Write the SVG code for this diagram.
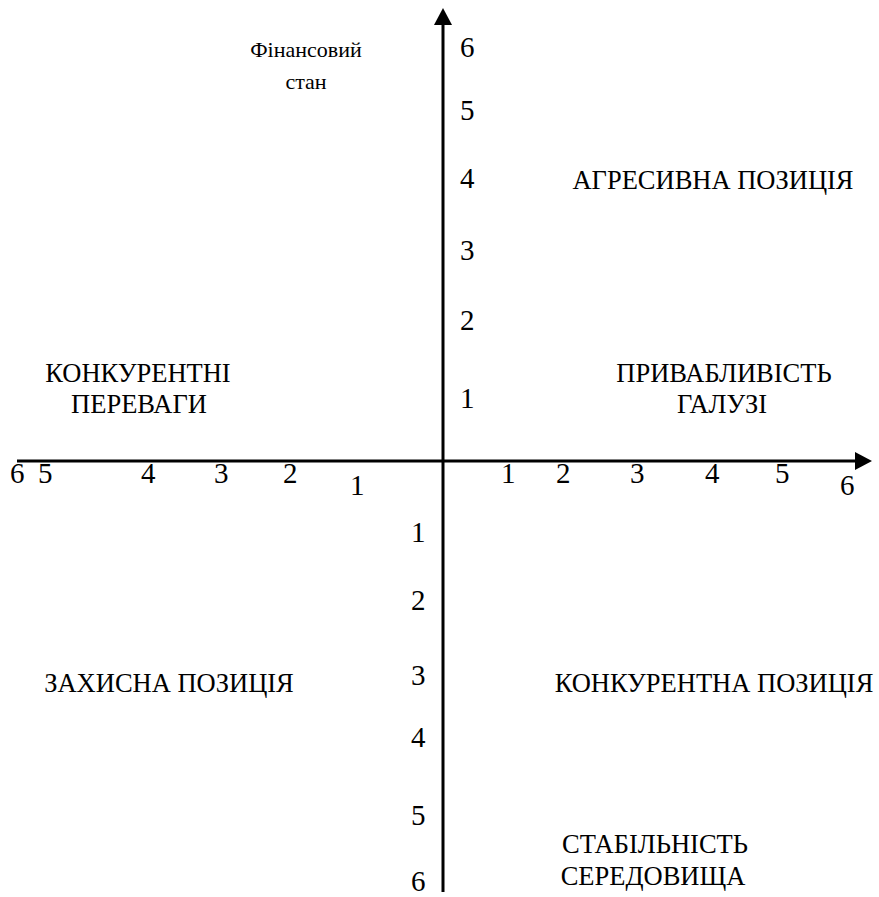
<svg xmlns="http://www.w3.org/2000/svg" width="879" height="897" viewBox="0 0 879 897">
<style>
text{font-family:"Liberation Serif","Times New Roman",serif;fill:#000}
.n{font-size:29px}
.t{font-size:22px}
.l{font-size:26.5px}
.c{text-anchor:middle}
.ax{stroke:#000;stroke-width:3;fill:none}
</style>
<rect width="879" height="897" fill="#fff"/>
<g id="connectors">
<line class="ax" x1="443" y1="892" x2="443" y2="22"/>
<polygon points="443,8 434,25 452,25" fill="#000"/>
<line class="ax" x1="17" y1="461" x2="858" y2="461"/>
<polygon points="872,461 855,452 855,470" fill="#000"/>
</g>
<g id="y-axis-title"><text class="t c" x="306" y="57">Фінансовий</text><text class="t c" x="306" y="89">стан</text></g>
<g id="y-pos">
<text class="n" x="460" y="57">6</text>
<text class="n" x="460" y="120">5</text>
<text class="n" x="460" y="188">4</text>
<text class="n" x="460" y="260">3</text>
<text class="n" x="460" y="330">2</text>
<text class="n" x="460" y="408">1</text>
</g>
<g id="y-neg">
<text class="n" x="411" y="542">1</text>
<text class="n" x="411" y="610">2</text>
<text class="n" x="411" y="685">3</text>
<text class="n" x="411" y="747">4</text>
<text class="n" x="411" y="825">5</text>
<text class="n" x="411" y="891">6</text>
</g>
<g id="x-neg">
<text class="n" x="10" y="483">6</text>
<text class="n" x="38" y="483">5</text>
<text class="n" x="141" y="483">4</text>
<text class="n" x="214" y="483">3</text>
<text class="n" x="283" y="483">2</text>
<text class="n" x="350" y="495">1</text>
</g>
<g id="x-pos">
<text class="n" x="501" y="483">1</text>
<text class="n" x="556" y="483">2</text>
<text class="n" x="630" y="483">3</text>
<text class="n" x="705" y="483">4</text>
<text class="n" x="775" y="483">5</text>
<text class="n" x="840" y="495">6</text>
</g>
<g id="aggressive"><text class="l c" x="713" y="189">АГРЕСИВНА ПОЗИЦІЯ</text></g>
<g id="competitive-adv"><text class="l c" x="138" y="382">КОНКУРЕНТНІ</text><text class="l c" x="139" y="413">ПЕРЕВАГИ</text></g>
<g id="industry"><text class="l c" x="724" y="382">ПРИВАБЛИВІСТЬ</text><text class="l c" x="722" y="413">ГАЛУЗІ</text></g>
<g id="defensive"><text class="l c" x="169" y="692">ЗАХИСНА ПОЗИЦІЯ</text></g>
<g id="competitive"><text class="l c" x="714" y="692">КОНКУРЕНТНА ПОЗИЦІЯ</text></g>
<g id="stability"><text class="l c" x="655" y="853">СТАБІЛЬНІСТЬ</text><text class="l c" x="653" y="885">СЕРЕДОВИЩА</text></g>
</svg>
